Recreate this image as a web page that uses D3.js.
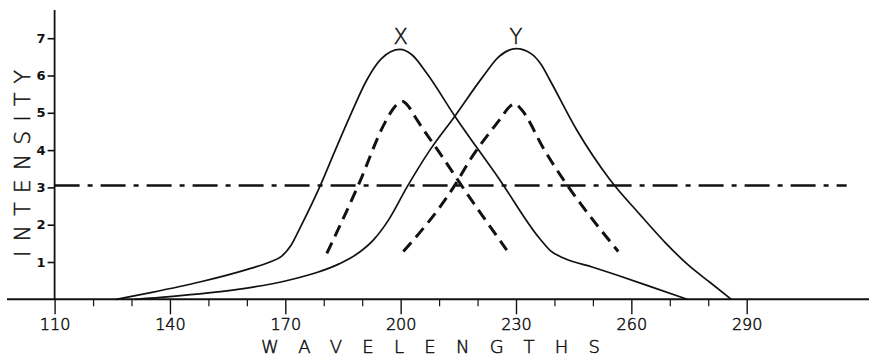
<!DOCTYPE html>
<html><head><meta charset="utf-8">
<script src="https://cdn.jsdelivr.net/npm/d3@7"></script>
<style>
html,body{margin:0;padding:0;background:#fff;}
svg{display:block;}
</style></head>
<body>
<svg id="chart" width="869" height="358"></svg>
<script>
// ---- data ----
const xMajorTicks = [110, 140, 170, 200, 230, 260, 290];
const xMinorTicks = [120, 130, 150, 160, 180, 190, 210, 220, 240, 250, 270, 280];
const yTicks = [1, 2, 3, 4, 5, 6, 7];
const curveLabels = ["X", "Y"];
const curvePeaks = [200, 230];
const thresholdLevel = 3.05;
const thresholdRange = [110, 316];

const solidX = [[126,0],[135,0.18],[148,0.47],[161,0.83],[166,1.0],[169,1.15],[171.5,1.45],[174,1.95],[179.1,3.05],[183,4.0],[187,4.95],[191.2,5.88],[195,6.45],[199.8,6.7],[203,6.55],[206.8,6.06],[214.1,4.91],[225.8,3.2],[236,1.65],[239,1.3],[242.5,1.1],[250,0.86],[256.2,0.65],[265,0.34],[274.5,0]];
const solidY = [[131,0],[140,0.07],[150,0.17],[160,0.3],[170,0.49],[178,0.71],[184,0.95],[189,1.24],[193,1.6],[197,2.15],[201.6,3.0],[207.6,4.0],[214.1,4.91],[221.4,5.97],[225.5,6.5],[230,6.72],[234,6.58],[236.5,6.3],[238.8,5.88],[245.8,4.54],[254.5,3.2],[262,2.3],[269,1.5],[275,0.9],[280.5,0.45],[286,0]];
const dashedX = [[180.8,1.23],[189,3.06],[196,4.75],[198.8,5.2],[200.5,5.3],[202.2,5.15],[203.7,4.9],[211.1,3.78],[215.5,3.1],[227.6,1.32]];
const dashedY = [[200.7,1.28],[214.1,3.06],[218,3.73],[226,4.85],[228.5,5.18],[229.8,5.24],[231.3,5.1],[237.4,4.0],[256.6,1.28]];

// ---- scales ----
const svg = d3.select("#chart");
const x = d3.scaleLinear().domain([110, 290]).range([54.6, 746.7]);
const y = d3.scaleLinear().domain([0, 7]).range([299.3, 38.2]);
const font = "'DejaVu Sans', sans-serif";
const ink = "#111";

function thinText(sel) {
  return sel.attr("font-family", font).attr("font-weight", 200)
    .attr("fill", ink).attr("stroke", ink).attr("stroke-width", 0.5);
}

// baseline (x axis line)
svg.append("line").attr("x1", 7).attr("x2", 869).attr("y1", y(0)).attr("y2", y(0))
  .attr("stroke", ink).attr("stroke-width", 2);
// y axis line
svg.append("line").attr("x1", x(110)).attr("x2", x(110)).attr("y1", 10).attr("y2", y(0))
  .attr("stroke", ink).attr("stroke-width", 1.8);

// x axis ticks (major)
const xAxis = d3.axisBottom(x).tickValues(xMajorTicks).tickSize(15).tickPadding(4).tickFormat(d3.format("d"));
const gx = svg.append("g").attr("transform", `translate(0,${y(0)})`).call(xAxis);
gx.select(".domain").remove();
gx.selectAll(".tick line").attr("stroke", ink).attr("stroke-width", 1.4);
thinText(gx.selectAll(".tick text")).attr("font-size", 16).attr("dy", "0.72em");
// minor ticks
const xMinor = d3.axisBottom(x).tickValues(xMinorTicks).tickSize(7).tickFormat("");
const gxm = svg.append("g").attr("transform", `translate(0,${y(0)})`).call(xMinor);
gxm.select(".domain").remove();
gxm.selectAll(".tick line").attr("stroke", ink).attr("stroke-width", 1.2);

// y axis ticks
const yAxis = d3.axisLeft(y).tickValues(yTicks).tickSize(7).tickPadding(2).tickFormat(d3.format("d"));
const gy = svg.append("g").attr("transform", `translate(${x(110)},0)`).call(yAxis);
gy.select(".domain").remove();
gy.selectAll(".tick line").attr("stroke", ink).attr("stroke-width", 1.6);
gy.selectAll(".tick text").attr("font-family", font).attr("font-weight", "bold")
  .attr("font-size", 13).attr("fill", ink);

// threshold dash-dot line
svg.append("line")
  .attr("x1", x(thresholdRange[0])).attr("x2", x(thresholdRange[1]))
  .attr("y1", y(thresholdLevel)).attr("y2", y(thresholdLevel))
  .attr("stroke", ink).attr("stroke-width", 2.4)
  .attr("stroke-dasharray", "25,8,5,8");

// curves
const line = d3.line().x(d => x(d[0])).y(d => y(d[1])).curve(d3.curveMonotoneX);
[solidX, solidY].forEach(s => {
  svg.append("path").attr("d", line(s)).attr("fill", "none")
    .attr("stroke", ink).attr("stroke-width", 1.7);
});
[dashedX, dashedY].forEach(s => {
  svg.append("path").attr("d", line(s)).attr("fill", "none")
    .attr("stroke", ink).attr("stroke-width", 3)
    .attr("stroke-dasharray", "12,7");
});

// curve labels
curveLabels.forEach((t, i) => {
  thinText(svg.append("text").attr("x", x(curvePeaks[i])).attr("y", 44)
    .attr("text-anchor", "middle").attr("font-size", 21)).text(t);
});

// axis titles
thinText(svg.append("text").attr("x", 261).attr("y", 353)
  .attr("font-size", 18)
  .attr("textLength", 339).attr("lengthAdjust", "spacing")).text("WAVELENGTHS");
thinText(svg.append("text").attr("transform", "translate(30,257) rotate(-90)")
  .attr("font-size", 22)
  .attr("textLength", 187).attr("lengthAdjust", "spacing")).text("INTENSITY");
</script>
</body></html>
